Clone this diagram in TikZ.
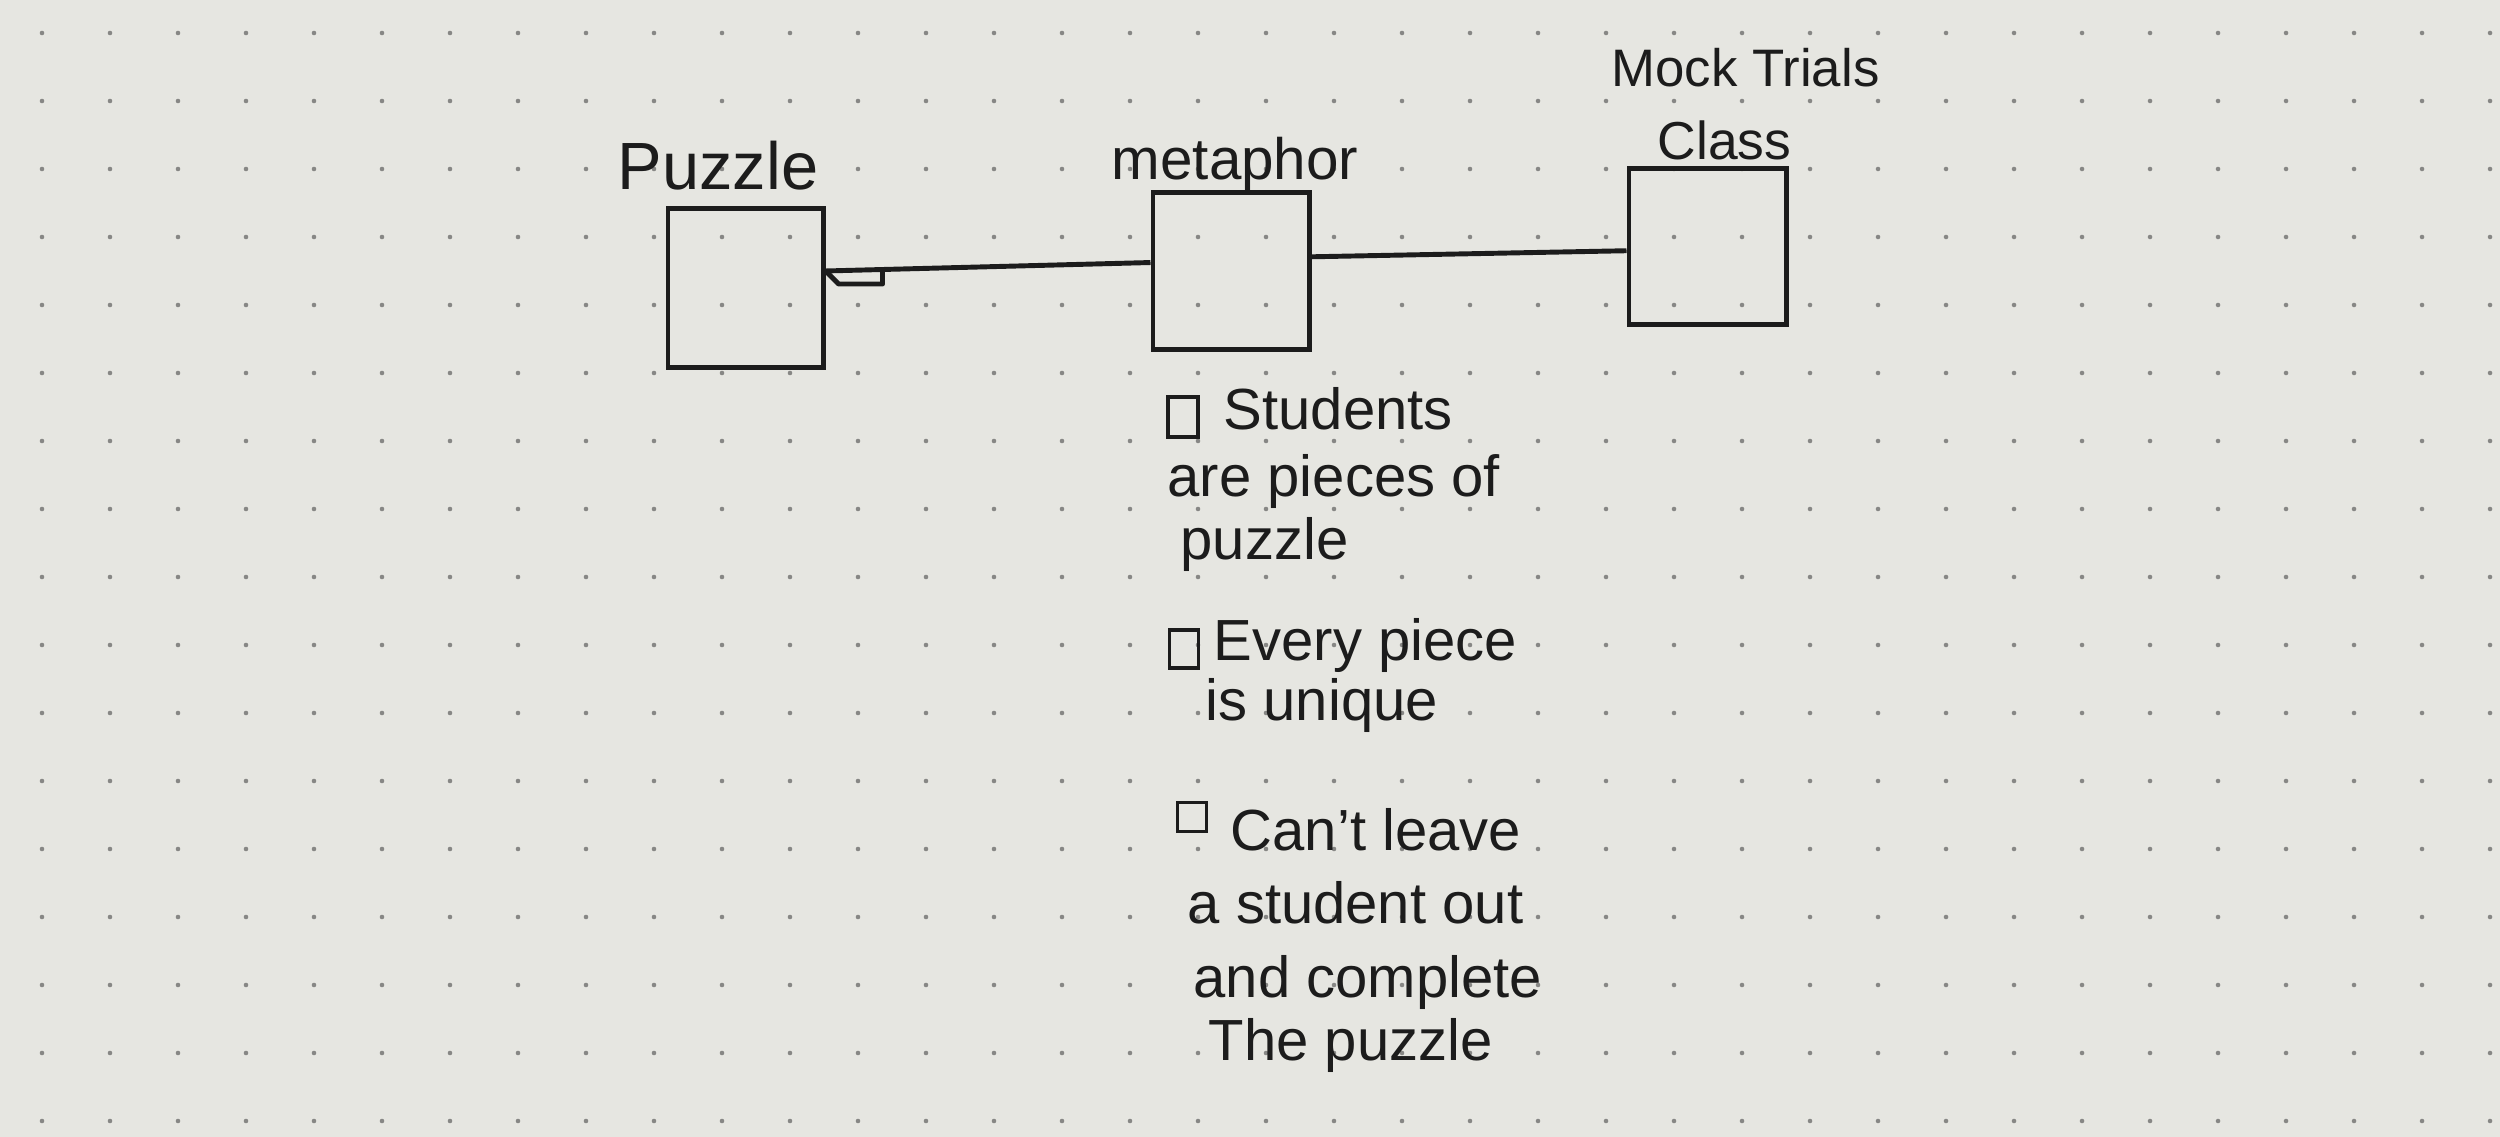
\documentclass[tikz,border=0pt]{standalone}
\usepackage{fontspec}
\setmainfont{Liberation Sans}
\definecolor{paper}{RGB}{230,230,225}
\definecolor{ink}{RGB}{28,28,28}
\definecolor{dotc}{RGB}{135,135,133}
\begin{document}
\begin{tikzpicture}[x=0.01cm,y=-0.01cm,
  box/.style={draw=ink,line width=1.4pt,rectangle,inner sep=0pt},
  chk/.style={draw=ink,line width=1.1pt,rectangle,inner sep=0pt},
  lbl/.style={anchor=base west,inner sep=0pt,text=ink,font=\fontsize{19}{22}\selectfont},
  hand/.style={anchor=base west,inner sep=0pt,text=ink,font=\fontsize{16.5}{20}\selectfont},
  link/.style={draw=ink,line width=1.4pt,line join=round}]
\fill[paper] (0,0) rectangle (2500,1137);
\useasboundingbox (0,0) rectangle (2500,1137);
\foreach \i in {0,...,36}{\foreach \j in {0,...,16}{\fill[dotc] (42+68*\i,33+68*\j) circle[radius=0.65pt];}}
% boxes
\node[box,minimum width=1.55cm,minimum height=1.58cm] (puz) at (745.5,288) {};
\node[box,minimum width=1.56cm,minimum height=1.56cm] (met) at (1231,271) {};
\node[box,minimum width=1.57cm,minimum height=1.55cm] (mock) at (1707.5,246.5) {};
% labels
\node[lbl] (puzl) at (617,190) {Puzzle};
\node[lbl,font=\fontsize{16.6}{20}\selectfont] (metl) at (1111,180) {metaphor};
\node[lbl,font=\fontsize{15}{18}\selectfont] (mockl) at (1611,87) {Mock Trials};
\node[lbl,font=\fontsize{15.2}{18}\selectfont] (classl) at (1657,160) {Class};
% connectors
\draw[link] (puz.12) coordinate (ah) -- (met.174);
\draw[link] (ah) -- ++(13,13) -- ++(44,0) -- ++(0,-12);
\draw[link] (met.10) -- (mock.183);
% checkboxes
\node[chk,minimum width=0.30cm,minimum height=0.40cm] (c1) at (1183,417) {};
\node[chk,minimum width=0.29cm,minimum height=0.38cm] (c2) at (1184,649) {};
\node[chk,minimum width=0.29cm,minimum height=0.29cm] (c3) at (1192,817) {};
% notes
\node[hand] (s1a) at (1223,430) {Students};
\node[hand] (s1b) at (1167,497) {are pieces of};
\node[hand] (s1c) at (1180,560) {puzzle};
\node[hand] (s2a) at (1213,660) {Every piece};
\node[hand] (s2b) at (1205,720) {is unique};
\node[hand] (s3a) at (1230,850) {Can't leave};
\node[hand] (s3b) at (1187,923) {a student out};
\node[hand] (s3c) at (1193,997) {and complete};
\node[hand] (s3d) at (1208,1060) {The puzzle};
\end{tikzpicture}
\end{document}
